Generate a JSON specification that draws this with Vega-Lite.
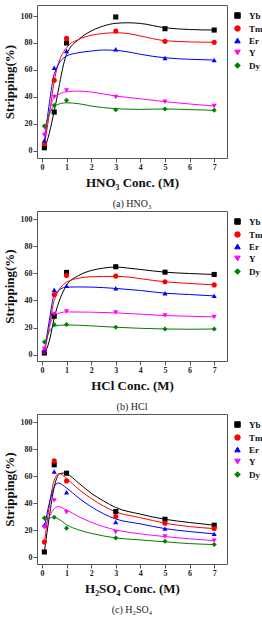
{
  "$schema": "https://vega.github.io/schema/vega-lite/v6.json",
  "padding": {"left": 2, "top": 4, "right": 0, "bottom": 0},
  "spacing": 0,
  "datasets": {
    "pts": [
      {"a":"a","el":"Yb","x":0.1,"v":2.2},{"a":"a","el":"Yb","x":0.5,"v":28.7},{"a":"a","el":"Yb","x":1,"v":80},{"a":"a","el":"Yb","x":3,"v":99.3},{"a":"a","el":"Yb","x":5,"v":90.6},{"a":"a","el":"Yb","x":7,"v":89.6},
      {"a":"a","el":"Tm","x":0.1,"v":5.2},{"a":"a","el":"Tm","x":0.5,"v":52.3},{"a":"a","el":"Tm","x":1,"v":83.4},{"a":"a","el":"Tm","x":3,"v":88.9},{"a":"a","el":"Tm","x":5,"v":81.2},{"a":"a","el":"Tm","x":7,"v":80.5},
      {"a":"a","el":"Er","x":0.1,"v":7.7},{"a":"a","el":"Er","x":0.5,"v":61.6},{"a":"a","el":"Er","x":1,"v":74},{"a":"a","el":"Er","x":3,"v":75.3},{"a":"a","el":"Er","x":5,"v":68.8},{"a":"a","el":"Er","x":7,"v":67.3},
      {"a":"a","el":"Y","x":0.1,"v":11.7},{"a":"a","el":"Y","x":0.5,"v":40},{"a":"a","el":"Y","x":1,"v":44.8},{"a":"a","el":"Y","x":3,"v":39.9},{"a":"a","el":"Y","x":5,"v":36.4},{"a":"a","el":"Y","x":7,"v":33.2},
      {"a":"a","el":"Dy","x":0.1,"v":18.3},{"a":"a","el":"Dy","x":0.5,"v":33.7},{"a":"a","el":"Dy","x":1,"v":37.4},{"a":"a","el":"Dy","x":3,"v":30.4},{"a":"a","el":"Dy","x":5,"v":31},{"a":"a","el":"Dy","x":7,"v":30},
      {"a":"b","el":"Yb","x":0.1,"v":1.2},{"a":"b","el":"Yb","x":0.5,"v":28.3},{"a":"b","el":"Yb","x":1,"v":60.6},{"a":"b","el":"Yb","x":3,"v":64.8},{"a":"b","el":"Yb","x":5,"v":60.8},{"a":"b","el":"Yb","x":7,"v":59.1},
      {"a":"b","el":"Tm","x":0.1,"v":2.4},{"a":"b","el":"Tm","x":0.5,"v":44.3},{"a":"b","el":"Tm","x":1,"v":58.4},{"a":"b","el":"Tm","x":3,"v":57.9},{"a":"b","el":"Tm","x":5,"v":53.7},{"a":"b","el":"Tm","x":7,"v":51.4},
      {"a":"b","el":"Er","x":0.1,"v":3},{"a":"b","el":"Er","x":0.5,"v":47.8},{"a":"b","el":"Er","x":1,"v":50.7},{"a":"b","el":"Er","x":3,"v":49},{"a":"b","el":"Er","x":5,"v":45.3},{"a":"b","el":"Er","x":7,"v":43.3},
      {"a":"b","el":"Y","x":0.1,"v":4.1},{"a":"b","el":"Y","x":0.5,"v":30},{"a":"b","el":"Y","x":1,"v":31.8},{"a":"b","el":"Y","x":3,"v":31},{"a":"b","el":"Y","x":5,"v":28.8},{"a":"b","el":"Y","x":7,"v":27.8},
      {"a":"b","el":"Dy","x":0.1,"v":9.3},{"a":"b","el":"Dy","x":0.5,"v":22.2},{"a":"b","el":"Dy","x":1,"v":22.2},{"a":"b","el":"Dy","x":3,"v":20.2},{"a":"b","el":"Dy","x":5,"v":18.9},{"a":"b","el":"Dy","x":7,"v":18.9},
      {"a":"c","el":"Yb","x":0.1,"v":3.9},{"a":"c","el":"Yb","x":0.5,"v":68.4},{"a":"c","el":"Yb","x":1,"v":62.2},{"a":"c","el":"Yb","x":3,"v":33.8},{"a":"c","el":"Yb","x":5,"v":28.1},{"a":"c","el":"Yb","x":7,"v":23.7},
      {"a":"c","el":"Tm","x":0.1,"v":11.3},{"a":"c","el":"Tm","x":0.5,"v":71.3},{"a":"c","el":"Tm","x":1,"v":56.5},{"a":"c","el":"Tm","x":3,"v":30.1},{"a":"c","el":"Tm","x":5,"v":25.2},{"a":"c","el":"Tm","x":7,"v":21.2},
      {"a":"c","el":"Er","x":0.1,"v":23.9},{"a":"c","el":"Er","x":0.5,"v":63.4},{"a":"c","el":"Er","x":1,"v":48.1},{"a":"c","el":"Er","x":3,"v":26.1},{"a":"c","el":"Er","x":5,"v":21.2},{"a":"c","el":"Er","x":7,"v":17.3},
      {"a":"c","el":"Y","x":0.1,"v":22.2},{"a":"c","el":"Y","x":0.5,"v":42},{"a":"c","el":"Y","x":1,"v":33.3},{"a":"c","el":"Y","x":3,"v":18.5},{"a":"c","el":"Y","x":5,"v":15.3},{"a":"c","el":"Y","x":7,"v":12.3},
      {"a":"c","el":"Dy","x":0.1,"v":29.1},{"a":"c","el":"Dy","x":0.5,"v":29.6},{"a":"c","el":"Dy","x":1,"v":21.5},{"a":"c","el":"Dy","x":3,"v":14.3},{"a":"c","el":"Dy","x":5,"v":11.8},{"a":"c","el":"Dy","x":7,"v":9.4}
    ],
    "fit": [
      {"a":"a","el":"Yb","x":0.1,"v":1},{"a":"a","el":"Yb","x":0.3,"v":13},{"a":"a","el":"Yb","x":0.5,"v":29.5},{"a":"a","el":"Yb","x":1,"v":71.5},{"a":"a","el":"Yb","x":1.5,"v":82.7},{"a":"a","el":"Yb","x":2,"v":88.9},{"a":"a","el":"Yb","x":2.5,"v":92.6},{"a":"a","el":"Yb","x":3,"v":94.6},{"a":"a","el":"Yb","x":3.5,"v":95},{"a":"a","el":"Yb","x":4,"v":94.5},{"a":"a","el":"Yb","x":5,"v":91.3},{"a":"a","el":"Yb","x":6,"v":90},{"a":"a","el":"Yb","x":7,"v":89.6},
      {"a":"a","el":"Tm","x":0.1,"v":4},{"a":"a","el":"Tm","x":0.3,"v":27},{"a":"a","el":"Tm","x":0.5,"v":51.7},{"a":"a","el":"Tm","x":1,"v":76.5},{"a":"a","el":"Tm","x":1.5,"v":82.7},{"a":"a","el":"Tm","x":2,"v":85.7},{"a":"a","el":"Tm","x":2.5,"v":87.1},{"a":"a","el":"Tm","x":3,"v":87.6},{"a":"a","el":"Tm","x":3.5,"v":87},{"a":"a","el":"Tm","x":4,"v":85.2},{"a":"a","el":"Tm","x":5,"v":81.7},{"a":"a","el":"Tm","x":6,"v":80.8},{"a":"a","el":"Tm","x":7,"v":80.5},
      {"a":"a","el":"Er","x":0.1,"v":6},{"a":"a","el":"Er","x":0.3,"v":35},{"a":"a","el":"Er","x":0.5,"v":57},{"a":"a","el":"Er","x":1,"v":70.3},{"a":"a","el":"Er","x":1.5,"v":72.8},{"a":"a","el":"Er","x":2,"v":74},{"a":"a","el":"Er","x":2.5,"v":74.8},{"a":"a","el":"Er","x":3,"v":74.5},{"a":"a","el":"Er","x":3.5,"v":73.4},{"a":"a","el":"Er","x":4,"v":71.6},{"a":"a","el":"Er","x":5,"v":69},{"a":"a","el":"Er","x":6,"v":67.9},{"a":"a","el":"Er","x":7,"v":67.3},
      {"a":"a","el":"Y","x":0.1,"v":11},{"a":"a","el":"Y","x":0.3,"v":29},{"a":"a","el":"Y","x":0.5,"v":39.3},{"a":"a","el":"Y","x":1,"v":43.8},{"a":"a","el":"Y","x":1.5,"v":44.3},{"a":"a","el":"Y","x":2,"v":43.6},{"a":"a","el":"Y","x":3,"v":40.6},{"a":"a","el":"Y","x":4,"v":38.6},{"a":"a","el":"Y","x":5,"v":36.4},{"a":"a","el":"Y","x":6,"v":34.7},{"a":"a","el":"Y","x":7,"v":33.2},
      {"a":"a","el":"Dy","x":0.1,"v":16},{"a":"a","el":"Dy","x":0.3,"v":27},{"a":"a","el":"Dy","x":0.5,"v":33.2},{"a":"a","el":"Dy","x":1,"v":35.6},{"a":"a","el":"Dy","x":1.5,"v":34.9},{"a":"a","el":"Dy","x":2,"v":33.2},{"a":"a","el":"Dy","x":3,"v":31.2},{"a":"a","el":"Dy","x":4,"v":30.7},{"a":"a","el":"Dy","x":5,"v":31},{"a":"a","el":"Dy","x":6,"v":30.5},{"a":"a","el":"Dy","x":7,"v":30},
      {"a":"b","el":"Yb","x":0.1,"v":0.5},{"a":"b","el":"Yb","x":0.3,"v":10},{"a":"b","el":"Yb","x":0.5,"v":27},{"a":"b","el":"Yb","x":1,"v":51},{"a":"b","el":"Yb","x":1.5,"v":58.4},{"a":"b","el":"Yb","x":2,"v":62},{"a":"b","el":"Yb","x":2.5,"v":63.8},{"a":"b","el":"Yb","x":3,"v":64.6},{"a":"b","el":"Yb","x":3.5,"v":63.8},{"a":"b","el":"Yb","x":4,"v":62.8},{"a":"b","el":"Yb","x":5,"v":60.8},{"a":"b","el":"Yb","x":6,"v":59.8},{"a":"b","el":"Yb","x":7,"v":59.1},
      {"a":"b","el":"Tm","x":0.1,"v":1.5},{"a":"b","el":"Tm","x":0.3,"v":20},{"a":"b","el":"Tm","x":0.5,"v":40},{"a":"b","el":"Tm","x":1,"v":53.4},{"a":"b","el":"Tm","x":1.5,"v":56.4},{"a":"b","el":"Tm","x":2,"v":57.4},{"a":"b","el":"Tm","x":3,"v":57.7},{"a":"b","el":"Tm","x":3.5,"v":57.2},{"a":"b","el":"Tm","x":4,"v":56},{"a":"b","el":"Tm","x":5,"v":53.7},{"a":"b","el":"Tm","x":6,"v":52.5},{"a":"b","el":"Tm","x":7,"v":51.4},
      {"a":"b","el":"Er","x":0.1,"v":2},{"a":"b","el":"Er","x":0.3,"v":25},{"a":"b","el":"Er","x":0.5,"v":44},{"a":"b","el":"Er","x":1,"v":49.8},{"a":"b","el":"Er","x":1.5,"v":49.9},{"a":"b","el":"Er","x":2,"v":49.8},{"a":"b","el":"Er","x":3,"v":48.8},{"a":"b","el":"Er","x":4,"v":47.3},{"a":"b","el":"Er","x":5,"v":45.3},{"a":"b","el":"Er","x":6,"v":44.3},{"a":"b","el":"Er","x":7,"v":43.3},
      {"a":"b","el":"Y","x":0.1,"v":3},{"a":"b","el":"Y","x":0.3,"v":20},{"a":"b","el":"Y","x":0.5,"v":29},{"a":"b","el":"Y","x":1,"v":31.5},{"a":"b","el":"Y","x":2,"v":31.3},{"a":"b","el":"Y","x":3,"v":30.8},{"a":"b","el":"Y","x":4,"v":29.8},{"a":"b","el":"Y","x":5,"v":28.8},{"a":"b","el":"Y","x":6,"v":28.3},{"a":"b","el":"Y","x":7,"v":27.8},
      {"a":"b","el":"Dy","x":0.1,"v":8},{"a":"b","el":"Dy","x":0.3,"v":17},{"a":"b","el":"Dy","x":0.5,"v":21},{"a":"b","el":"Dy","x":1,"v":21.9},{"a":"b","el":"Dy","x":2,"v":21.2},{"a":"b","el":"Dy","x":3,"v":20.2},{"a":"b","el":"Dy","x":4,"v":19.4},{"a":"b","el":"Dy","x":5,"v":18.9},{"a":"b","el":"Dy","x":6,"v":18.7},{"a":"b","el":"Dy","x":7,"v":18.9},
      {"a":"c","el":"Yb","x":0.1,"v":4},{"a":"c","el":"Yb","x":0.3,"v":30},{"a":"c","el":"Yb","x":0.5,"v":52},{"a":"c","el":"Yb","x":0.7,"v":61.5},{"a":"c","el":"Yb","x":0.85,"v":62.3},{"a":"c","el":"Yb","x":1,"v":61.7},{"a":"c","el":"Yb","x":1.5,"v":54.8},{"a":"c","el":"Yb","x":2,"v":47.4},{"a":"c","el":"Yb","x":2.5,"v":41.7},{"a":"c","el":"Yb","x":3,"v":36.8},{"a":"c","el":"Yb","x":4,"v":31.9},{"a":"c","el":"Yb","x":5,"v":28.1},{"a":"c","el":"Yb","x":6,"v":25.7},{"a":"c","el":"Yb","x":7,"v":23.7},
      {"a":"c","el":"Tm","x":0.1,"v":10},{"a":"c","el":"Tm","x":0.3,"v":38},{"a":"c","el":"Tm","x":0.5,"v":57},{"a":"c","el":"Tm","x":0.7,"v":62},{"a":"c","el":"Tm","x":1,"v":58.3},{"a":"c","el":"Tm","x":1.5,"v":50.2},{"a":"c","el":"Tm","x":2,"v":43.5},{"a":"c","el":"Tm","x":3,"v":33.6},{"a":"c","el":"Tm","x":4,"v":29.3},{"a":"c","el":"Tm","x":5,"v":25.2},{"a":"c","el":"Tm","x":6,"v":22.7},{"a":"c","el":"Tm","x":7,"v":21.2},
      {"a":"c","el":"Er","x":0.1,"v":22},{"a":"c","el":"Er","x":0.3,"v":40},{"a":"c","el":"Er","x":0.5,"v":52},{"a":"c","el":"Er","x":0.65,"v":55},{"a":"c","el":"Er","x":1,"v":51.2},{"a":"c","el":"Er","x":1.5,"v":43.8},{"a":"c","el":"Er","x":2,"v":37.4},{"a":"c","el":"Er","x":3,"v":28.3},{"a":"c","el":"Er","x":4,"v":24.7},{"a":"c","el":"Er","x":5,"v":21.2},{"a":"c","el":"Er","x":6,"v":19},{"a":"c","el":"Er","x":7,"v":17.3},
      {"a":"c","el":"Y","x":0.1,"v":21},{"a":"c","el":"Y","x":0.3,"v":30},{"a":"c","el":"Y","x":0.5,"v":36},{"a":"c","el":"Y","x":0.65,"v":37.5},{"a":"c","el":"Y","x":1,"v":35},{"a":"c","el":"Y","x":1.5,"v":30},{"a":"c","el":"Y","x":2,"v":25.9},{"a":"c","el":"Y","x":3,"v":20.2},{"a":"c","el":"Y","x":4,"v":17.3},{"a":"c","el":"Y","x":5,"v":15.3},{"a":"c","el":"Y","x":6,"v":13.6},{"a":"c","el":"Y","x":7,"v":12.3},
      {"a":"c","el":"Dy","x":0.1,"v":27},{"a":"c","el":"Dy","x":0.3,"v":29},{"a":"c","el":"Dy","x":0.5,"v":29.5},{"a":"c","el":"Dy","x":0.7,"v":28},{"a":"c","el":"Dy","x":1,"v":24.1},{"a":"c","el":"Dy","x":1.5,"v":20.2},{"a":"c","el":"Dy","x":2,"v":17.7},{"a":"c","el":"Dy","x":3,"v":14.3},{"a":"c","el":"Dy","x":4,"v":12.8},{"a":"c","el":"Dy","x":5,"v":11.4},{"a":"c","el":"Dy","x":6,"v":10.1},{"a":"c","el":"Dy","x":7,"v":9.4}
    ]
  },
  "resolve": {"legend": {"color": "independent", "shape": "independent"}},
  "vconcat": [
    {
      "width": 190, "height": 153,
      "title": {"text": "(a) HNO₃", "orient": "bottom", "offset": 10},
      "layer": [
        {"data": {"name": "fit"}, "transform": [{"filter": "datum.a === 'a'"}],
         "mark": {"type": "line", "interpolate": "monotone", "strokeWidth": 1},
         "encoding": {
           "x": {"field": "x", "type": "quantitative", "scale": {"domain": [-0.2, 7.52], "nice": false, "zero": false}, "title": "HNO₃ Conc. (M)"},
           "y": {"field": "v", "type": "quantitative", "scale": {"domain": [-5.4, 108.2], "nice": false}, "title": "Stripping(%)"},
           "color": {"field": "el", "type": "nominal", "scale": {"domain": ["Yb", "Tm", "Er", "Y", "Dy"], "range": ["#000000", "#ff0000", "#0000ff", "#ff00ff", "#008000"]}}}},
        {"data": {"name": "pts"}, "transform": [{"filter": "datum.a === 'a'"}],
         "mark": {"type": "point", "filled": true, "opacity": 1, "size": 26},
         "encoding": {
           "x": {"field": "x", "type": "quantitative"},
           "y": {"field": "v", "type": "quantitative"},
           "color": {"field": "el", "type": "nominal"},
           "shape": {"field": "el", "type": "nominal", "scale": {"domain": ["Yb", "Tm", "Er", "Y", "Dy"], "range": ["square", "circle", "triangle-up", "triangle-down", "diamond"]}}}}
      ]
    },
    {
      "width": 190, "height": 150,
      "title": {"text": "(b) HCl", "orient": "bottom", "offset": 10},
      "layer": [
        {"data": {"name": "fit"}, "transform": [{"filter": "datum.a === 'b'"}],
         "mark": {"type": "line", "interpolate": "monotone", "strokeWidth": 1},
         "encoding": {
           "x": {"field": "x", "type": "quantitative", "scale": {"domain": [-0.2, 7.52], "nice": false, "zero": false}, "title": "HCl Conc. (M)"},
           "y": {"field": "v", "type": "quantitative", "scale": {"domain": [-4.7, 105.9], "nice": false}, "title": "Stripping(%)"},
           "color": {"field": "el", "type": "nominal", "scale": {"domain": ["Yb", "Tm", "Er", "Y", "Dy"], "range": ["#000000", "#ff0000", "#0000ff", "#ff00ff", "#008000"]}}}},
        {"data": {"name": "pts"}, "transform": [{"filter": "datum.a === 'b'"}],
         "mark": {"type": "point", "filled": true, "opacity": 1, "size": 26},
         "encoding": {
           "x": {"field": "x", "type": "quantitative"},
           "y": {"field": "v", "type": "quantitative"},
           "color": {"field": "el", "type": "nominal"},
           "shape": {"field": "el", "type": "nominal", "scale": {"domain": ["Yb", "Tm", "Er", "Y", "Dy"], "range": ["square", "circle", "triangle-up", "triangle-down", "diamond"]}}}}
      ]
    },
    {
      "width": 190, "height": 150,
      "title": {"text": "(c) H₂SO₄", "orient": "bottom", "offset": 10},
      "layer": [
        {"data": {"name": "fit"}, "transform": [{"filter": "datum.a === 'c'"}],
         "mark": {"type": "line", "interpolate": "monotone", "strokeWidth": 1},
         "encoding": {
           "x": {"field": "x", "type": "quantitative", "scale": {"domain": [-0.2, 7.52], "nice": false, "zero": false}, "title": "H₂SO₄ Conc. (M)"},
           "y": {"field": "v", "type": "quantitative", "scale": {"domain": [-5, 106], "nice": false}, "title": "Stripping(%)"},
           "color": {"field": "el", "type": "nominal", "scale": {"domain": ["Yb", "Tm", "Er", "Y", "Dy"], "range": ["#000000", "#ff0000", "#0000ff", "#ff00ff", "#008000"]}}}},
        {"data": {"name": "pts"}, "transform": [{"filter": "datum.a === 'c'"}],
         "mark": {"type": "point", "filled": true, "opacity": 1, "size": 26},
         "encoding": {
           "x": {"field": "x", "type": "quantitative"},
           "y": {"field": "v", "type": "quantitative"},
           "color": {"field": "el", "type": "nominal"},
           "shape": {"field": "el", "type": "nominal", "scale": {"domain": ["Yb", "Tm", "Er", "Y", "Dy"], "range": ["square", "circle", "triangle-up", "triangle-down", "diamond"]}}}}
      ]
    }
  ],
  "config": {
    "font": "Liberation Serif",
    "view": {"stroke": "#555555", "strokeWidth": 1},
    "title": {"font": "Liberation Serif", "fontSize": 10, "fontWeight": "normal", "color": "#222222", "anchor": "middle"},
    "axisX": {"labelPadding": 1, "titlePadding": 5, "titleFontSize": 13, "values": [0, 1, 2, 3, 4, 5, 6, 7], "tickCount": 8},
    "axisY": {"labelPadding": 1, "titlePadding": 4, "titleFontSize": 13, "values": [0, 20, 40, 60, 80, 100], "tickCount": 6},
    "axis": {
      "domain": false, "grid": false, "tickSize": 4, "labelOverlap": false, "labelSeparation": 0,
      "tickColor": "#555555", "tickWidth": 1,
      "labelFont": "Liberation Serif", "labelFontWeight": "bold", "labelFontSize": 8, "labelColor": "#222222",
      "titleFont": "Liberation Serif", "titleFontWeight": "bold", "titleColor": "#111111"
    },
    "legend": {
      "title": null, "orient": "right", "offset": 0, "padding": 6,
      "symbolSize": 30, "symbolStrokeWidth": 1, "symbolOpacity": 1,
      "labelFont": "Liberation Serif", "labelFontWeight": "bold", "labelFontSize": 9, "labelColor": "#111111",
      "labelOffset": 7, "rowPadding": 2
    }
  }
}
